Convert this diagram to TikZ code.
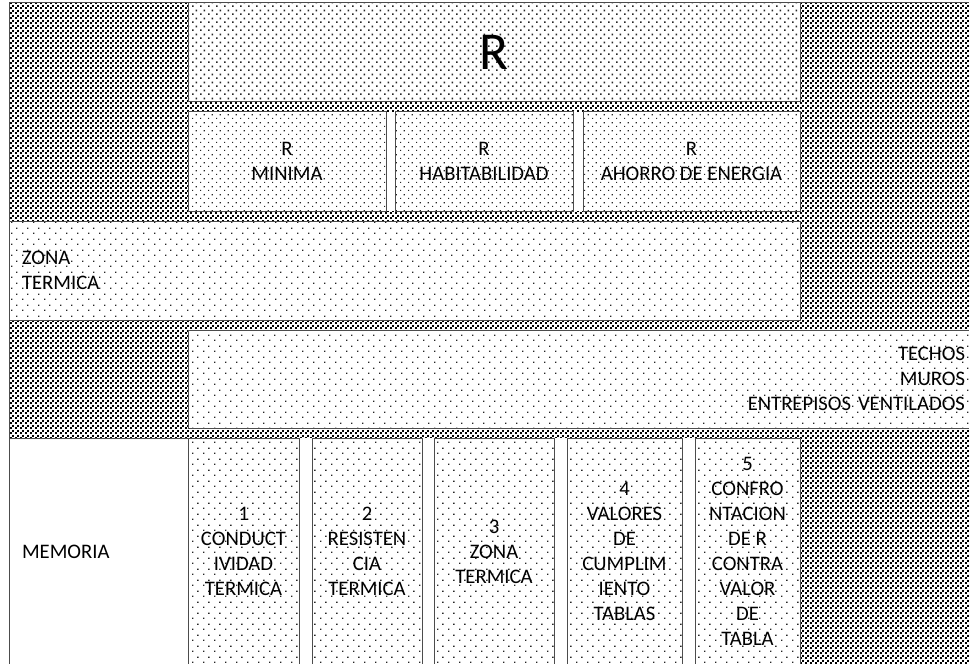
\documentclass[tikz,border=0pt]{standalone}
\usepackage{fontspec}
\setmainfont{Carlito}
\usetikzlibrary{patterns}
\pgfdeclarepatternformonly{checks}{\pgfpointorigin}{\pgfqpoint{3.75pt}{3.75pt}}{\pgfqpoint{3.75pt}{3.75pt}}{%
  \pgfpathrectangle{\pgfpointorigin}{\pgfqpoint{1.6pt}{1.6pt}}%
  \pgfpathrectangle{\pgfqpoint{1.9pt}{1.9pt}}{\pgfqpoint{1.6pt}{1.6pt}}%
  \pgfusepath{fill}}
\pgfdeclarepatternformonly{rdots}{\pgfpointorigin}{\pgfqpoint{6pt}{6pt}}{\pgfqpoint{6pt}{6pt}}{%
  \pgfpathrectangle{\pgfpointorigin}{\pgfqpoint{1.4pt}{1.4pt}}%
  \pgfpathrectangle{\pgfqpoint{3pt}{3pt}}{\pgfqpoint{1.4pt}{1.4pt}}%
  \pgfusepath{fill}}
\pgfdeclarepatternformonly{fdots}{\pgfpointorigin}{\pgfqpoint{6pt}{6pt}}{\pgfqpoint{6pt}{6pt}}{%
  \pgfpathrectangle{\pgfpointorigin}{\pgfqpoint{1pt}{1pt}}%
  \pgfpathrectangle{\pgfqpoint{3pt}{3pt}}{\pgfqpoint{1pt}{1pt}}%
  \pgfusepath{fill}}
\pgfdeclarepatternformonly{sdots}{\pgfpointorigin}{\pgfqpoint{8pt}{8pt}}{\pgfqpoint{8pt}{8pt}}{%
  \pgfpathrectangle{\pgfpointorigin}{\pgfqpoint{1pt}{1pt}}%
  \pgfpathrectangle{\pgfqpoint{4pt}{4pt}}{\pgfqpoint{1pt}{1pt}}%
  \pgfusepath{fill}}

\begin{document}
\begin{tikzpicture}[x=0.75pt,y=-0.75pt,
  box/.style={draw=black!70,line width=0.75pt,preaction={fill=white},pattern color=black!85,
    inner sep=0pt,align=center,font=\fontsize{15.5}{18.75}\selectfont},
  wh/.style 2 args={minimum width=#1*0.75pt,minimum height=#2*0.75pt}]
  \useasboundingbox (0,0) rectangle (969,663);
  \fill[pattern=checks,pattern color=black] (9,3) rectangle (969,663);
  \draw[black!70,line width=0.75pt] (969,3) -- (9,3) -- (9,663);
  \fill[white] (188,112) rectangle (800,211);
  \fill[white] (188,438) rectangle (800,672);
  \node[box,pattern=rdots,wh={612}{99},font=\fontsize{40}{48}\selectfont] (rtop) at (494,52.5) {R};
  \node[box,pattern=fdots,wh={198}{99}] (rmin) at (287,161.5) {R\\MINIMA};
  \node[box,pattern=fdots,wh={178}{99}] (rhab) at (484,161.5) {R\\HABITABILIDAD};
  \node[box,pattern=fdots,wh={217}{99}] (raho) at (691.5,161.5) {R\\AHORRO DE ENERGIA};
  \node[box,pattern=sdots,wh={791}{99},align=left,inner xsep=9.75pt,text width=573.75pt] (zona) at (404.5,270.5) {ZONA\\TERMICA};
  \node[box,pattern=sdots,wh={781}{98},align=right,inner xsep=3pt,text width=579.75pt] (techos) at (578.5,379) {TECHOS\\MUROS\\ENTREPISOS VENTILADOS};
  \node[box,wh={179}{227},align=left,inner xsep=9.75pt,text width=114.75pt] (memoria) at (98.5,551.5) {MEMORIA};
  \node[box,pattern=sdots,wh={111}{227}] (c1) at (243.5,551.5) {1\\CONDUCT\\IVIDAD\\TERMICA};
  \node[box,pattern=sdots,wh={110}{227}] (c2) at (367,551.5) {2\\RESISTEN\\CIA\\TERMICA};
  \node[box,pattern=sdots,wh={120}{227}] (c3) at (494,551.5) {3\\ZONA\\TERMICA};
  \node[box,pattern=sdots,wh={115}{227}] (c4) at (624.5,551.5) {4\\VALORES\\DE\\CUMPLIM\\IENTO\\TABLAS};
  \node[box,pattern=sdots,wh={105}{227}] (c5) at (747.5,551.5) {5\\CONFRO\\NTACION\\DE R\\CONTRA\\VALOR\\DE\\TABLA};
\end{tikzpicture}
\end{document}
